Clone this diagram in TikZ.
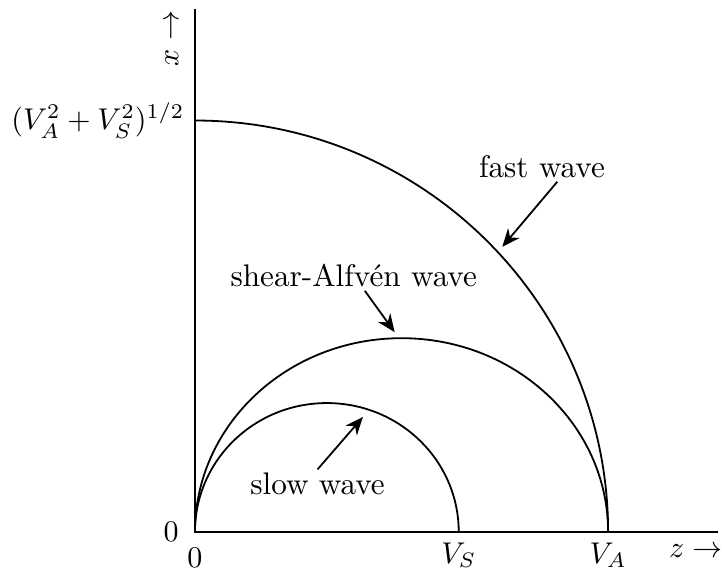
\documentclass[tikz,border=0pt]{standalone}
\usepackage{amsmath,amssymb}
\usepackage{tikz}
\usetikzlibrary{arrows.meta,positioning,calc}

\begin{document}
\begin{tikzpicture}[
  every node/.style={font=\fontsize{10.4}{12.5}\selectfont},
  axis/.style={line width=0.6pt},
  wave/.style={line width=0.6pt},
  lbl/.style={inner sep=1pt},
  ptr/.style={-{Stealth[length=6pt,width=5pt]}, line width=0.6pt}
]
\useasboundingbox (-2.284,-0.515) rectangle (6.221,6.232);
\coordinate (O) at (0,0);
\coordinate (xend) at (0,6.13);
\coordinate (zend) at (6.13,0);
\draw[axis] (xend) -- (O) -- (zend);
\draw[wave] (0,4.82) arc[start angle=90, end angle=0, x radius=4.84, y radius=4.82];
\draw[wave] (O) arc[start angle=180, end angle=0, x radius=2.42, y radius=2.27];
\draw[wave] (O) arc[start angle=180, end angle=0, x radius=1.545, y radius=1.51];
\node (zeroz) at (-0.28,0) {$0$};
\node (zerox) at (0,-0.30) {$0$};
\node[below] (vs) at (3.09,0) {$V_S$};
\node[below] (va) at (4.84,0) {$V_A$};
\node (zlbl) at (5.87,-0.22) {$z\rightarrow$};
\node[rotate=90] (xlbl) at (-0.27,5.78) {$x\rightarrow$};
\node[left] (vtop) at (0,4.82) {$(V_A^2+V_S^2)^{1/2}$};
\node[lbl] (fastlbl) at (4.065,4.276) {fast wave};
\node[lbl] (salbl) at (1.86,3.0) {shear-Alfv\'en wave};
\node[lbl] (slowlbl) at (1.436,0.562) {slow wave};
\coordinate (fastpt) at (3.60,3.34);
\coordinate (sapt) at (2.34,2.34);
\coordinate (slowpt) at (1.968,1.347);
\draw[ptr] ([xshift=0.18cm]fastlbl.south) -- (fastpt);
\draw[ptr] ([xshift=0.13cm]salbl.south) -- (sapt);
\draw[ptr] (slowlbl.north) -- (slowpt);
\end{tikzpicture}
\end{document}
